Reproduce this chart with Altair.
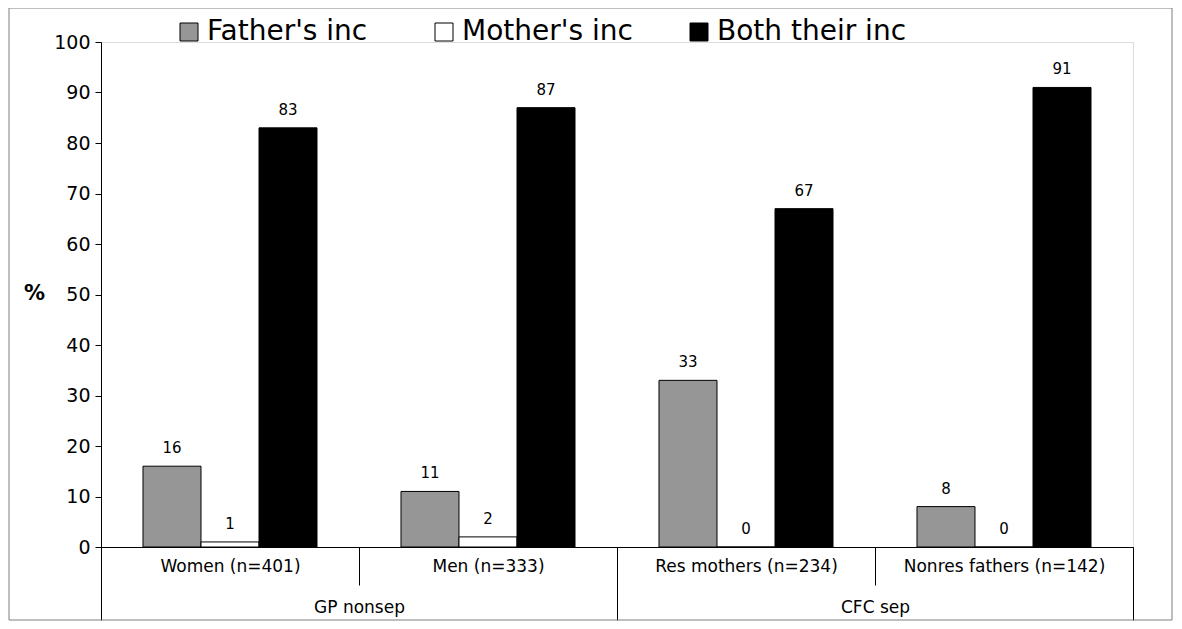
import altair as alt
import pandas as pd

categories = ["Women (n=401)", "Men (n=333)", "Res mothers (n=234)", "Nonres fathers (n=142)"]
category_groups = ["GP nonsep", "GP nonsep", "CFC sep", "CFC sep"]
groups = ["GP nonsep", "CFC sep"]
series = ["Father's inc", "Mother's inc", "Both their inc"]
father_inc = [16, 11, 33, 8]
mother_inc = [1, 2, 0, 0]
both_inc = [83, 87, 67, 91]
colors = ["#969696", "#ffffff", "#000000"]
y_ticks = [0, 10, 20, 30, 40, 50, 60, 70, 80, 90, 100]

rows = []
for i, c in enumerate(categories):
    for s, vals in zip(series, [father_inc, mother_inc, both_inc]):
        rows.append({"category": c, "group": category_groups[i], "series": s, "value": vals[i]})
df = pd.DataFrame(rows)
gdf = pd.DataFrame({"group": groups})

FONT = "DejaVu Sans"

x_cat = alt.X(
    "category:N",
    sort=categories,
    scale=alt.Scale(paddingInner=0, paddingOuter=0),
    axis=alt.Axis(
        title=None,
        orient="bottom",
        labelAngle=0,
        tickBand="extent",
        tickSize=38,
        labelPadding=-27,
        labelFontSize=17,
        labelFont=FONT,
        labelColor="black",
        labelLimit=300,
        tickColor="black",
        domainColor="black",
        labelBaseline="top",
    ),
)
x_off = alt.XOffset("series:N", sort=series, scale=alt.Scale(paddingInner=0, paddingOuter=0.724))
y_enc = alt.Y(
    "value:Q",
    scale=alt.Scale(domain=[0, 100], nice=False),
    axis=alt.Axis(
        title="%",
        titleAngle=0,
        titleX=-67,
        titleY=251,
        titleAlign="center",
        titleBaseline="middle",
        titleFontSize=21,
        titleFontWeight="bold",
        titleFont=FONT,
        values=y_ticks,
        tickSize=6,
        labelPadding=5,
        labelFontSize=19,
        labelFont=FONT,
        labelColor="black",
        tickColor="black",
        domainColor="black",
        grid=False,
    ),
)

bars = alt.Chart(df).mark_bar(stroke="black", strokeWidth=1).encode(
    x=x_cat,
    xOffset=x_off,
    y=y_enc,
    color=alt.Color(
        "series:N",
        sort=series,
        scale=alt.Scale(domain=series, range=colors),
        legend=alt.Legend(
            title=None,
            orient="none",
            legendX=74,
            legendY=-24,
            direction="horizontal",
            columns=3,
            gridAlign="all",
            columnPadding=33,
            padding=0,
            symbolType="square",
            symbolSize=324,
            symbolStrokeColor="black",
            symbolStrokeWidth=1,
            symbolOpacity=1,
            labelFontSize=28,
            labelFont=FONT,
            labelColor="black",
            labelOffset=4,
            labelLimit=400,
        ),
    ),
)

labels = alt.Chart(df).mark_text(
    baseline="alphabetic", dy=-13, fontSize=15, font=FONT, color="black"
).encode(
    x=x_cat,
    xOffset=x_off,
    y=alt.Y("value:Q"),
    text=alt.Text("value:Q"),
)

frame = alt.Chart(alt.Data(values=[{"a": 1}])).mark_rect(
    fill=None, fillOpacity=0, stroke="#7f7f7f", strokeWidth=1
).encode(
    x=alt.value(-92), x2=alt.value(1071), y=alt.value(-34), y2=alt.value(578)
)

inner = alt.layer(frame, bars, labels)

group_layer = alt.Chart(gdf).mark_point(opacity=0).encode(
    x=alt.X(
        "group:N",
        sort=groups,
        scale=alt.Scale(paddingInner=0, paddingOuter=0),
        axis=alt.Axis(
            title=None,
            orient="bottom",
            labelAngle=0,
            domain=False,
            tickBand="extent",
            tickSize=73,
            labelPadding=-21,
            labelFontSize=17,
            labelFont=FONT,
            labelColor="black",
            tickColor="black",
            labelBaseline="top",
        ),
    )
)

chart = alt.layer(inner, group_layer).resolve_scale(x="independent").properties(
    width=1032,
    height=505,
    autosize=alt.AutoSizeParams(type="none"),
    padding={"left": 93, "top": 34, "right": 41, "bottom": 74},
).configure_view(stroke=None).configure(background="white")

chart.save("out.html", embed_options={"renderer": "svg", "actions": False})
